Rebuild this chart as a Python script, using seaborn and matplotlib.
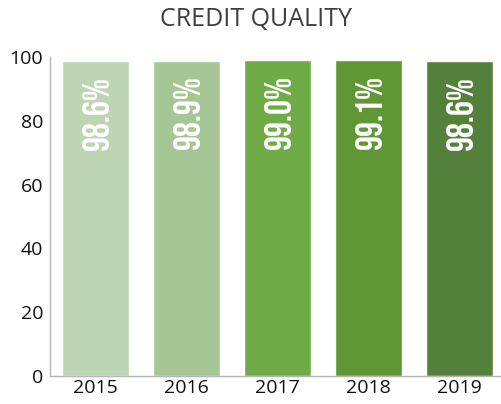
import seaborn as sns
import matplotlib.pyplot as plt
from matplotlib.ticker import FixedLocator

# data
years = ["2015", "2016", "2017", "2018", "2019"]
quality = [98.6, 98.9, 99.0, 99.1, 98.6]
labels = ["98.6%", "98.9%", "99.0%", "99.1%", "98.6%"]
colors = ["#bdd5b3", "#a6c795", "#6fab47", "#5e9733", "#53803a"]

sns.set_style("white")
plt.rcParams["font.family"] = ["Open Sans", "DejaVu Sans"]

fig = plt.figure(figsize=(5.02, 4.04), dpi=100)
ax = fig.add_axes([50 / 502, 28 / 404, 455 / 502, 319 / 404])

sns.barplot(x=years, y=quality, hue=years, palette=colors, legend=False,
            width=0.74, saturation=1, ax=ax)

for i, (v, lab) in enumerate(zip(quality, labels)):
    ax.text(i, v - 4.6, lab, rotation=90, ha="center", va="top", color="white",
            fontsize=27, family=["Bebas Neue", "Roboto Condensed", "DejaVu Sans"])

ax.set_xlim(-0.5, 4.5)
ax.set_ylim(0, 100)
ax.set_yticks([0, 20, 40, 60, 80, 100])
ax.xaxis.set_minor_locator(FixedLocator([0.5, 1.5, 2.5, 3.5]))

for s in ["top", "right"]:
    ax.spines[s].set_visible(False)
for s in ["left", "bottom"]:
    ax.spines[s].set_color("#b5b5b5")
    ax.spines[s].set_linewidth(1)

ax.tick_params(axis="y", direction="in", length=9, color="#b5b5b5", labelsize=14,
               labelcolor="#111111", pad=5)
ax.tick_params(axis="x", which="major", length=0, labelsize=14, labelcolor="#111111", pad=2)
ax.tick_params(axis="x", which="minor", direction="in", length=6, color="#b5b5b5")
ax.set_xlabel("")
ax.set_ylabel("")

fig.text(0.51, 0.952, "CREDIT QUALITY", ha="center", va="center", fontsize=18, color="#3d3d45")

fig.savefig("out.png", dpi=100)
